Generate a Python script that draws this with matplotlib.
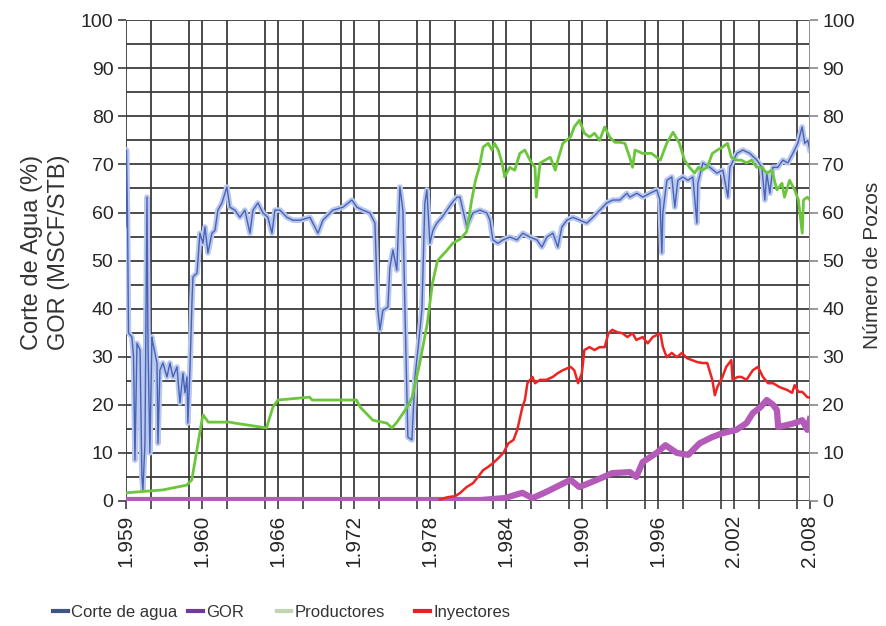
# Recreating the water-cut / GOR / well-count history chart
import matplotlib.pyplot as plt
from matplotlib.lines import Line2D
from matplotlib.ticker import MultipleLocator

plt.rcParams['font.family'] = ['Liberation Sans', 'DejaVu Sans']

# x axis labels (one label every 6 axis years)
tick_years = [1954, 1960, 1966, 1972, 1978, 1984, 1990, 1996, 2002, 2008]
tick_labels = ['1.959', '1.960', '1.966', '1.972', '1.978', '1.984', '1.990', '1.996', '2.002', '2.008']

# Corte de agua (%)
water_years = [1954.00, 1954.04, 1954.12, 1954.20, 1954.47, 1954.60, 1954.71, 1954.87, 1955.11, 1955.26,
               1955.34, 1955.50, 1955.66, 1955.74, 1955.89, 1956.05, 1956.13, 1956.45, 1956.53, 1956.68,
               1956.92, 1957.24, 1957.47, 1957.71, 1958.03, 1958.26, 1958.50, 1958.66, 1958.82, 1958.89,
               1959.05, 1959.21, 1959.29, 1959.61, 1959.84, 1960.08, 1960.24, 1960.47, 1960.79, 1961.03,
               1961.26, 1961.58, 1961.97, 1962.21, 1962.60, 1963.00, 1963.39, 1963.79, 1964.03, 1964.42,
               1964.82, 1965.21, 1965.53, 1965.76, 1966.16, 1966.71, 1967.18, 1967.74, 1968.53, 1969.16,
               1969.55, 1970.34, 1971.13, 1971.84, 1972.24, 1972.71, 1973.26, 1973.66, 1973.89, 1974.05,
               1974.29, 1974.68, 1974.84, 1975.08, 1975.39, 1975.63, 1975.87, 1976.03, 1976.26, 1976.58,
               1976.82, 1977.05, 1977.37, 1977.60, 1977.76, 1978.00, 1978.24, 1978.55, 1978.95, 1979.34,
               1979.74, 1980.13, 1980.37, 1980.92, 1981.39, 1981.95, 1982.50, 1982.74, 1982.97, 1983.37,
               1983.76, 1984.32, 1984.87, 1985.34, 1985.89, 1986.45, 1986.84, 1987.24, 1987.71, 1988.10,
               1988.42, 1988.82, 1989.29, 1989.84, 1990.39, 1990.87, 1991.42, 1991.97, 1992.45, 1993.00,
               1993.55, 1993.79, 1994.34, 1994.82, 1995.37, 1995.92, 1996.16, 1996.32, 1996.39, 1996.71,
               1997.10, 1997.34, 1997.58, 1997.97, 1998.37, 1998.76, 1999.08, 1999.16, 1999.55, 2000.11,
               2000.66, 2001.13, 2001.53, 2001.69, 2002.24, 2002.71, 2003.26, 2003.82, 2004.21, 2004.45,
               2004.60, 2004.84, 2005.08, 2005.47, 2005.87, 2006.26, 2006.66, 2007.05, 2007.39, 2007.60,
               2007.84, 2008.00]
water_cut = [57, 73, 60, 35, 34.1, 30, 8.5, 32.8, 31.4, 5,
             2.3, 12, 63.2, 32.8, 10, 34.1, 32.8, 28.7, 12, 27.2,
             28.7, 25.8, 28.7, 25.8, 27.9, 20.4, 26.6, 22.5, 25.8, 16.2,
             27.2, 41.2, 46.6, 47.4, 55.7, 53.6, 57, 51.6, 55.7, 56.3,
             60.5, 62, 65.3, 61.1, 60.5, 59, 60.5, 55.7, 60.5, 62,
             59.9, 59, 55.7, 60.5, 60.5, 59, 58.4, 58.4, 59, 55.7,
             58.4, 60.5, 61.1, 62.6, 61.1, 60.5, 59.9, 57.8, 39.7, 35.6,
             39.7, 40.3, 48.6, 52.2, 48, 65.3, 60.5, 39.7, 13.3, 12.7,
             25.8, 31.4, 39.7, 62, 64.7, 53.6, 56.3, 57.8, 59, 60.5,
             62, 63.2, 63.2, 57, 59.9, 60.5, 59.9, 58.4, 54.3, 53.6,
             54.3, 54.9, 54.3, 55.7, 54.9, 54.3, 52.8, 54.9, 55.7, 52.8,
             57, 58.4, 59, 58.4, 57.8, 59, 60.5, 62, 62.6, 62.6,
             64, 63.2, 64, 63.2, 64, 64.7, 62.6, 51.6, 59.9, 66.7,
             67.4, 61.1, 66.7, 67.4, 66.7, 67.4, 57.8, 66.1, 70.3, 69.4,
             68.2, 68.8, 63.2, 69.4, 72.3, 73, 72.3, 70.9, 69.4, 62.6,
             68.2, 64, 69.4, 69.4, 70.9, 70.3, 72.3, 74.4, 77.8, 74.4,
             75, 73]

# GOR (MSCF/STB)
gor_years = [1954.0, 1982.0, 1983.9, 1985.3, 1986.1, 1987.2, 1989.1, 1989.8, 1991.2, 1992.4,
             1993.8, 1994.3, 1994.8, 1995.9, 1996.6, 1997.5, 1998.4, 1999.3, 2000.3, 2001.1,
             2002.2, 2003.0, 2003.5, 2004.1, 2004.6, 2005.1, 2005.4, 2005.5, 2006.2, 2006.8,
             2007.4, 2007.8, 2008.0]
gor = [0.2, 0.2, 0.6, 1.7, 0.6, 1.9, 4.4, 2.9, 4.4, 5.8,
       6.0, 5.0, 8.1, 10.0, 11.6, 10.0, 9.6, 12.0, 13.3, 14.1,
       14.8, 16.2, 18.3, 19.5, 21.0, 20.0, 18.9, 15.4, 15.8, 16.2,
       16.8, 14.8, 17.0]

# Productores (numero de pozos)
prod_years = [1954.0, 1956.9, 1958.8, 1959.2, 1960.0, 1960.1, 1960.5, 1962.2, 1962.6, 1965.1,
              1965.6, 1966.0, 1968.5, 1968.7, 1972.2, 1972.5, 1973.5, 1974.6, 1975.0, 1975.4,
              1976.2, 1976.6, 1977.2, 1977.8, 1978.2, 1978.6, 1979.3, 1979.8, 1980.4, 1980.9,
              1981.3, 1981.6, 1981.9, 1982.2, 1982.6, 1982.9, 1983.1, 1983.4, 1983.7, 1983.9,
              1984.3, 1984.7, 1985.1, 1985.5, 1985.9, 1986.3, 1986.4, 1986.7, 1987.1, 1987.5,
              1987.9, 1988.1, 1988.5, 1989.1, 1989.4, 1989.8, 1990.2, 1990.6, 1991.0, 1991.4,
              1991.8, 1992.2, 1992.6, 1993.0, 1993.4, 1993.8, 1994.0, 1994.2, 1994.8, 1995.5,
              1996.2, 1996.7, 1997.2, 1997.7, 1998.1, 1998.5, 1998.9, 1999.2, 1999.5, 1999.9,
              2000.3, 2000.7, 2001.1, 2001.5, 2001.8, 2002.2, 2002.6, 2003.0, 2003.4, 2003.8,
              2004.2, 2004.6, 2005.0, 2005.4, 2005.8, 2006.0, 2006.4, 2006.8, 2007.1, 2007.4,
              2007.5, 2007.8, 2008.0]
productores = [1.7, 2.3, 3.3, 4.4, 16.8, 17.9, 16.4, 16.4, 16.2, 15.2,
               19.5, 21, 21.6, 21, 21, 19.5, 16.8, 16.2, 15.2, 16.4,
               19.5, 21.6, 28.7, 37, 45.3, 50, 52, 53.6, 54.5, 56,
               62.6, 66.7, 69.4, 73.6, 74.4, 73, 74.4, 73, 70.3, 67.4,
               69.4, 68.8, 72.3, 73, 70.9, 69.4, 63.2, 70.3, 70.9, 71.5,
               68.8, 70.9, 74.4, 75.7, 77.8, 79.2, 76.5, 75.7, 76.5, 75,
               77.8, 75.7, 74.6, 74.6, 74.4, 71.3, 69.4, 73, 72.3, 72.3,
               70.9, 74.4, 76.7, 74.4, 70.9, 69.4, 68.2, 69.4, 68.8, 69.4,
               72.3, 73, 73.6, 74.4, 71.5, 70.9, 70.9, 70.3, 70.9, 69.4,
               69.4, 68.2, 68.8, 64.7, 66.1, 63.2, 66.7, 64.7, 62.6, 55.7,
               62.6, 63.2, 62.6]

# Inyectores (numero de pozos)
iny_years = [1978.8, 1979.4, 1980.0, 1980.4, 1980.9, 1981.4, 1981.8, 1982.2, 1982.6, 1983.0,
             1983.4, 1983.8, 1984.2, 1984.6, 1984.9, 1985.3, 1985.5, 1985.7, 1986.1, 1986.3,
             1986.7, 1987.2, 1987.7, 1988.1, 1988.5, 1989.1, 1989.4, 1989.7, 1990.0, 1990.2,
             1990.6, 1991.0, 1991.4, 1991.8, 1992.1, 1992.4, 1992.8, 1993.2, 1993.6, 1994.0,
             1994.3, 1994.8, 1995.2, 1995.6, 1996.2, 1996.4, 1996.7, 1997.1, 1997.5, 1997.9,
             1998.3, 1998.7, 1999.1, 1999.5, 1999.9, 2000.3, 2000.5, 2000.7, 2001.1, 2001.4,
             2001.8, 2001.9, 2002.3, 2002.6, 2003.0, 2003.5, 2003.9, 2004.3, 2004.7, 2005.1,
             2005.6, 2006.2, 2006.6, 2006.8, 2007.1, 2007.4, 2007.8, 2008.0]
inyectores = [0.3, 0.8, 1.0, 1.7, 2.9, 3.7, 5.0, 6.4, 7.1, 7.9,
              8.9, 10.0, 12.0, 12.7, 14.8, 19.5, 21, 24.5, 25.8, 24.5,
              25.2, 25.2, 25.8, 26.6, 27.2, 27.9, 27.2, 24.5, 26.6, 31.4,
              32, 31.4, 32, 32, 34.9, 35.6, 35.1, 34.9, 34.1, 34.9,
              33.5, 34.1, 32.8, 34.1, 34.9, 32, 29.9, 30.8, 29.9, 30.8,
              29.7, 29.3, 28.9, 28.7, 28.7, 25.2, 22, 23.7, 25.8, 27.9,
              29.3, 25.2, 25.8, 25.8, 25.2, 27.2, 27.9, 25.8, 24.5, 24.5,
              23.7, 23.1, 22.5, 24.1, 22.7, 22.7, 21.6, 21.5]

fig = plt.figure(figsize=(8.87, 6.26), dpi=100)
ax = fig.add_axes([0.142, 0.1997, 0.771, 0.768])
ax2 = ax.twinx()

grid_col = '#3c3c3c'
text_col = '#262626'

# left axis series
ax.plot(water_years, water_cut, color='#bac7ee', lw=4.0, solid_joinstyle='round', zorder=3)
ax.plot(water_years, water_cut, color='#4663b4', lw=1.0, zorder=4)
ax.plot(gor_years, gor, color='#b45ab8', lw=4.5, solid_joinstyle='round', zorder=5)

# right axis series
ax2.plot(prod_years, productores, color='#6cc63c', lw=2.0)
ax2.plot(iny_years, inyectores, color='#ee2424', lw=1.8)

for a in (ax, ax2):
    a.set_xlim(1954, 2008)
    a.set_ylim(0, 100)
    for s in a.spines.values():
        s.set_visible(False)

ax.set_xticks(tick_years)
ax.set_xticklabels(tick_labels, rotation=90, fontsize=15, color=text_col)
ax.xaxis.set_minor_locator(MultipleLocator(3))
ax.yaxis.set_major_locator(MultipleLocator(10))
ax.yaxis.set_minor_locator(MultipleLocator(5))
ax.tick_params(axis='x', which='both', length=6, width=1.2, color=grid_col, pad=4)
ax.tick_params(axis='y', which='major', length=6, width=1.2, color=grid_col, labelsize=14, labelcolor=text_col, pad=3)
ax.tick_params(axis='y', which='minor', length=0)
ax.grid(True, which='both', color=grid_col, lw=1.3)
ax.set_axisbelow(True)

ax2.yaxis.set_major_locator(MultipleLocator(10))
ax2.tick_params(axis='y', length=6, width=1.2, color='#888888', labelsize=14, labelcolor=text_col, pad=3)
ax2.axvline(2008, color='#9a9a9a', lw=1.3, zorder=0)

ax.set_ylabel('Corte de Agua (%)\nGOR (MSCF/STB)', fontsize=17, color='#333333', linespacing=1.3)
ax.yaxis.set_label_coords(-0.082, 0.518)
ax2.set_ylabel('Número de Pozos', fontsize=15, color='#333333')
ax2.yaxis.set_label_coords(1.078, 0.49)

# legend entries placed one by one, like the spreadsheet legend
legend_items = [('Corte de agua', '#3f5683', 0.060),
                ('GOR', '#6e3aa0', 0.212),
                ('Productores', '#c2d6b4', 0.312),
                ('Inyectores', '#e02424', 0.468)]
for name, col, xpos in legend_items:
    fig.legend([Line2D([], [], color=col, lw=3)], [name], loc='center left',
               bbox_to_anchor=(xpos, 0.022), frameon=False, borderpad=0, borderaxespad=0,
               handlelength=0.88, handletextpad=0.2, fontsize=12, labelcolor='#333333')

fig.savefig('out.png', dpi=100)
